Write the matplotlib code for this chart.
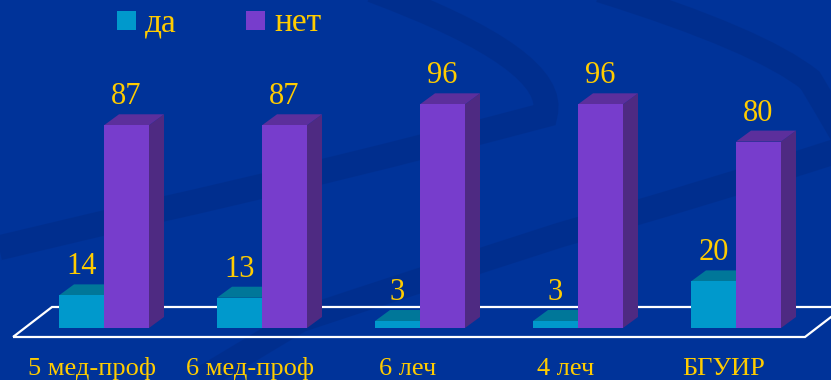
import matplotlib
matplotlib.use("Agg")
import matplotlib.pyplot as plt
from matplotlib.patches import Polygon, PathPatch, Rectangle
from matplotlib.path import Path

# data
categories = ["5 мед-проф", "6 мед-проф", "6 леч", "4 леч", "БГУИР"]
da_values = [14, 13, 3, 3, 20]
net_values = [87, 87, 96, 96, 80]
series_names = ["да", "нет"]

# colours
BG = "#003399"
BAND = "#002C88"
GOLD = "#FFCC00"
DA_FRONT, DA_TOP, DA_SIDE = "#0099CC", "#007799", "#006688"
NET_FRONT, NET_TOP, NET_SIDE = "#773DCC", "#5C2F9C", "#4E2A82"
FONT = "Liberation Serif"

W, H = 831, 380
fig = plt.figure(figsize=(W / 100, H / 100), dpi=100)
fig.patch.set_facecolor(BG)

# background swooshes in pixel coordinates
bg = fig.add_axes([0, 0, 1, 1])
bg.set_xlim(0, W)
bg.set_ylim(H, 0)
bg.axis("off")
swooshes = [
    [(372, -10), (560, 60), (545, 115), (330, 172), (150, 212), (-10, 250)],
    [(840, 150), (700, 195), (560, 235), (420, 280), (300, 320), (200, 380)],
    [(600, -10), (760, 40), (810, 80), (840, 130), (845, 140), (850, 150)],
]
for pts in swooshes:
    codes = [Path.MOVETO] + [Path.CURVE3] * 4 + [Path.LINETO]
    bg.add_patch(PathPatch(Path(pts, codes), facecolor="none", edgecolor=BAND,
                           lw=18, alpha=0.6, capstyle="butt"))

# chart axes: x in category units, y in value units
ax = fig.add_axes([0, 0, 1, 1])
ax.patch.set_alpha(0)
ax.axis("off")
px_per_cat = 158.0
px_per_val = 2.33
x0_px, y0_px = 104.0, 328.0
ax.set_xlim(-x0_px / px_per_cat, (W - x0_px) / px_per_cat)
ax.set_ylim(-(H - y0_px) / px_per_val, y0_px / px_per_val)

bw = 45 / px_per_cat          # bar width
ddx = 15 / px_per_cat         # depth offset x
ddy = 11 / px_per_val         # depth offset y

# floor
fl_front = -9 / px_per_val
fl_back = 21 / px_per_val
floor = Polygon([(-91 / px_per_cat, fl_front), (701 / px_per_cat, fl_front),
                 (740 / px_per_cat, fl_back), (-52 / px_per_cat, fl_back)],
                closed=True, fill=False, edgecolor="white", lw=1.6, zorder=1)
ax.add_patch(floor)


def bar3d(x, v, front, top, side):
    ax.add_patch(Polygon([(x + bw, 0), (x + bw + ddx, ddy), (x + bw + ddx, v + ddy), (x + bw, v)],
                         closed=True, facecolor=side, edgecolor="none", zorder=3))
    ax.add_patch(Polygon([(x, v), (x + bw, v), (x + bw + ddx, v + ddy), (x + ddx, v + ddy)],
                         closed=True, facecolor=top, edgecolor="none", zorder=3))
    ax.add_patch(Rectangle((x, 0), bw, v, facecolor=front, edgecolor="none", zorder=3))


for i, (d, n) in enumerate(zip(da_values, net_values)):
    bar3d(i - bw, d, DA_FRONT, DA_TOP, DA_SIDE)
    bar3d(i, n, NET_FRONT, NET_TOP, NET_SIDE)
    ax.text(i - bw / 2, d + ddy + 7.5, str(d), ha="center", va="center",
            color=GOLD, fontsize=22, family=FONT, zorder=4)
    ax.text(i + bw / 2, n + ddy + 7.5, str(n), ha="center", va="center",
            color=GOLD, fontsize=22, family=FONT, zorder=4)
    ax.text(i - 12 / px_per_cat, -17.5, categories[i], ha="center", va="center",
            color=GOLD, fontsize=19, family=FONT, zorder=4)

# legend
leg_x = [(117 - x0_px) / px_per_cat, (246 - x0_px) / px_per_cat]
leg_cols = [DA_FRONT, NET_FRONT]
sq_w = 19 / px_per_cat
sq_h = 19 / px_per_val
ly = (y0_px - 30) / px_per_val
for lx, c, name in zip(leg_x, leg_cols, series_names):
    ax.add_patch(Rectangle((lx, ly), sq_w, sq_h, facecolor=c, edgecolor="none", zorder=4))
    ax.text(lx + 28 / px_per_cat, (y0_px - 31) / px_per_val, name, ha="left", va="baseline",
            color=GOLD, fontsize=24, family=FONT, zorder=4)

fig.savefig("out.png", dpi=100, facecolor=BG)
